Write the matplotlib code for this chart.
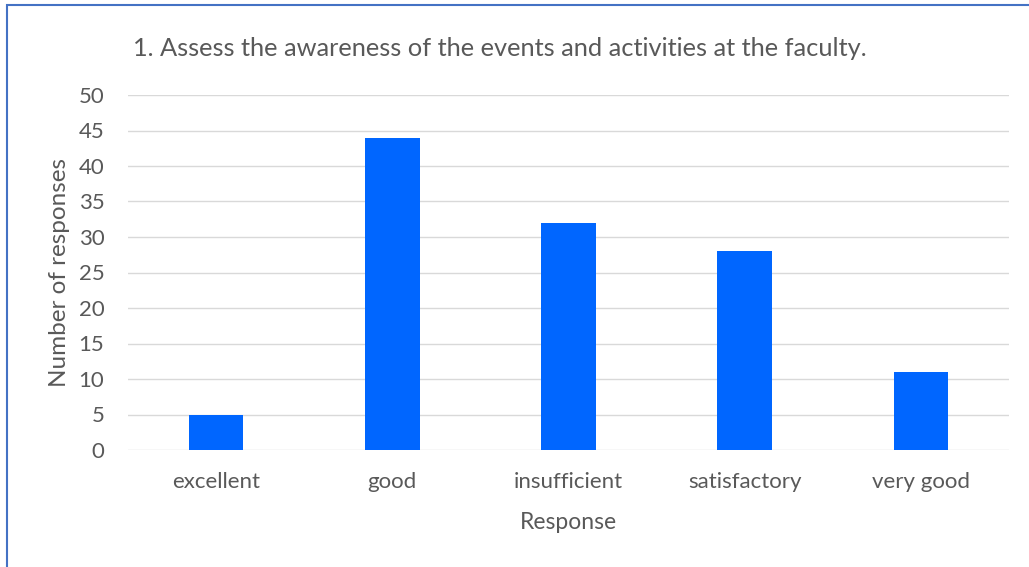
import matplotlib
matplotlib.use("Agg")
import matplotlib.pyplot as plt
from matplotlib.patches import Rectangle

categories = ["excellent", "good", "insufficient", "satisfactory", "very good"]
values = [5, 44, 32, 28, 11]
yticks = [0, 5, 10, 15, 20, 25, 30, 35, 40, 45, 50]
title = "1. Assess the awareness of the events and activities at the faculty."

plt.rcParams['font.family'] = ['Lato', 'DejaVu Sans']
txt = '#595959'

fig = plt.figure(figsize=(10.29, 5.67), dpi=100)
W, H = 1029, 567
ax = fig.add_axes([128 / W, 1 - 450 / H, (1009 - 128) / W, (450 - 95) / H])

x = list(range(len(categories)))
ax.bar(x, values, width=0.31, color='#0066FF', zorder=3)
ax.set_xlim(-0.5, len(categories) - 0.5)
ax.set_ylim(0, 50)
ax.set_yticks(yticks)
ax.set_xticks(x)
ax.set_xticklabels(categories)
ax.grid(axis='y', color='#D9D9D9', linewidth=1, zorder=0)
for s in ax.spines.values():
    s.set_visible(False)
ax.tick_params(length=0, labelsize=16, colors=txt)
ax.tick_params(axis='x', pad=16)
ax.tick_params(axis='y', pad=17)
ax.set_xlabel("Response", fontsize=16.5, color=txt, labelpad=14)
ax.set_ylabel("Number of responses", fontsize=17.5, color=txt, labelpad=6)

fig.text(133 / W, 1 - 48 / H, title, fontsize=18.3, color=txt, ha='left', va='center')

fig.patches.append(Rectangle((7 / W, -0.1), 1.2, 1 - 5 / H + 0.1, transform=fig.transFigure,
                             fill=False, edgecolor='#4472C4', linewidth=1.5))

fig.savefig("out.png", dpi=100)
